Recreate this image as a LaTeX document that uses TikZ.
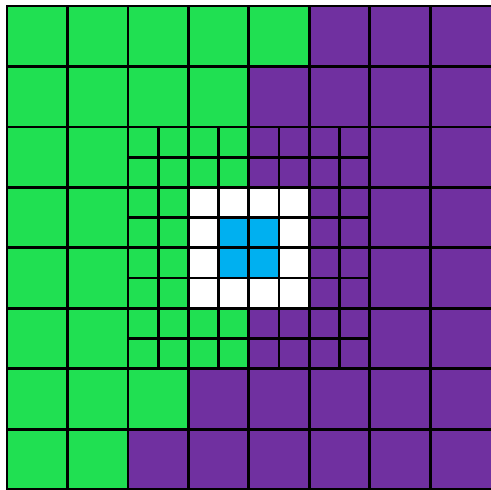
\documentclass[tikz,border=0pt]{standalone}
\definecolor{gr}{RGB}{32,224,82}
\definecolor{pu}{RGB}{112,48,160}
\definecolor{bl}{RGB}{0,176,240}
\definecolor{wh}{RGB}{255,255,255}
\begin{document}
\begin{tikzpicture}[x=1pt,y=-1pt,
  cell/.style={draw=black,line width=2.8pt},
  edge/.style={draw=black,line width=2.8pt,line cap=rect}]
\useasboundingbox (-7,-6) rectangle (484,484);
\clip (-7,-6) rectangle (484,484);
\def\cs{60.45}
\def\hs{30.225}
% big cells: fill, then top, left and bottom edges (no outer right edge)
\foreach \r/\row in {0/{gr,gr,gr,gr,gr,pu,pu,pu},1/{gr,gr,gr,gr,pu,pu,pu,pu},2/{gr,gr,gr,gr,pu,pu,pu,pu},3/{gr,gr,gr,gr,pu,pu,pu,pu},4/{gr,gr,gr,gr,pu,pu,pu,pu},5/{gr,gr,gr,gr,pu,pu,pu,pu},6/{gr,gr,gr,pu,pu,pu,pu,pu},7/{gr,gr,pu,pu,pu,pu,pu,pu}}{
  \foreach [count=\c from 0] \col in \row {
    \fill[\col] ({\c*\cs},{\r*\cs}) rectangle ++(\cs+0.6,\cs);
  }
}
\foreach \r in {0,...,7}{
  \foreach \c in {0,...,7}{
    \path[edge] ({(\c+1)*\cs+0.6},{\r*\cs}) -- ({\c*\cs},{\r*\cs}) -- ({\c*\cs},{(\r+1)*\cs}) -- ({(\c+1)*\cs+0.6},{(\r+1)*\cs});
  }
}
% half cells in central region
\foreach \v/\row in {0/{gr,gr,gr,gr,pu,pu,pu,pu},1/{gr,gr,gr,gr,pu,pu,pu,pu},2/{gr,gr,wh,wh,wh,wh,pu,pu},3/{gr,gr,wh,bl,bl,wh,pu,pu},4/{gr,gr,wh,bl,bl,wh,pu,pu},5/{gr,gr,wh,wh,wh,wh,pu,pu},6/{gr,gr,gr,gr,pu,pu,pu,pu},7/{gr,gr,gr,gr,pu,pu,pu,pu}}{
  \foreach [count=\h from 0] \col in \row {
    \path[cell,fill=\col] ({2*\cs+\h*\hs},{2*\cs+\v*\hs}) rectangle ++(\hs,\hs);
  }
}
\end{tikzpicture}
\end{document}
